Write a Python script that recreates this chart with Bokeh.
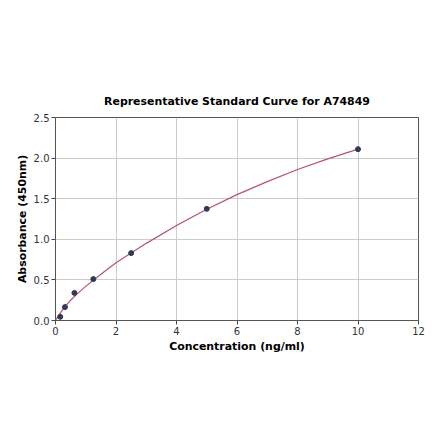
from bokeh.plotting import figure
from bokeh.models import FixedTicker, Range1d
from bokeh.embed import file_html
from bokeh.resources import INLINE

# standard points
conc = [0.156, 0.3125, 0.625, 1.25, 2.5, 5, 10]
absorb = [0.045, 0.165, 0.34, 0.51, 0.83, 1.375, 2.11]

# fitted curve
curve_x = [0, 0.1, 0.25, 0.5, 0.75, 1, 1.5, 2, 2.5, 3, 4, 5, 6, 7, 8, 9, 10]
curve_y = [0.0, 0.06, 0.14, 0.25, 0.34, 0.42, 0.57, 0.71, 0.83, 0.95, 1.17,
           1.37, 1.55, 1.71, 1.86, 1.99, 2.11]

x_ticks = [0, 2, 4, 6, 8, 10, 12]
y_ticks = [0.0, 0.5, 1.0, 1.5, 2.0, 2.5]

p = figure(frame_width=363, frame_height=203, output_backend="svg",
           toolbar_location=None,
           x_range=Range1d(0, 12), y_range=Range1d(0, 2.5),
           min_border_left=55, min_border_right=12,
           min_border_top=117, min_border_bottom=100)

p.title.text = "Representative Standard Curve for A74849"
p.title.align = "center"
p.title.text_font = "DejaVu Sans"
p.title.text_font_style = "bold"
p.title.text_font_size = "8.2pt"
p.title.text_color = "black"
p.title.standoff = 19

p.xaxis.axis_label = "Concentration (ng/ml)"
p.yaxis.axis_label = "Absorbance (450nm)"
for ax in (p.xaxis, p.yaxis):
    ax.axis_label_text_font = "DejaVu Sans"
    ax.axis_label_text_font_style = "bold"
    ax.axis_label_text_font_size = "8.2pt"
    ax.axis_label_text_color = "black"
    ax.major_label_text_font = "DejaVu Sans"
    ax.major_label_text_font_size = "7.5pt"
    ax.major_label_text_color = "#333333"
    ax.minor_tick_line_color = None
    ax.major_tick_out = 4
    ax.major_tick_in = 0
    ax.axis_line_color = None
    ax.major_tick_line_color = "#444444"
    ax.major_label_standoff = 2
p.xaxis.axis_label_standoff = 2
p.yaxis.axis_label_standoff = 2

p.xaxis.ticker = FixedTicker(ticks=x_ticks)
p.yaxis.ticker = FixedTicker(ticks=y_ticks)
p.yaxis.major_label_overrides = {t: "%.1f" % t for t in y_ticks}

p.grid.grid_line_color = "#cccccc"
p.grid.grid_line_width = 1
p.outline_line_color = "#555555"
p.outline_line_width = 1

p.line(curve_x, curve_y, line_color="#b5546f", line_width=1.2)
p.scatter(conc, absorb, marker="circle", size=5, fill_color="#2e3a5c",
          line_color="#2e3a5c")

open("out.html", "w").write(file_html(p, INLINE))
